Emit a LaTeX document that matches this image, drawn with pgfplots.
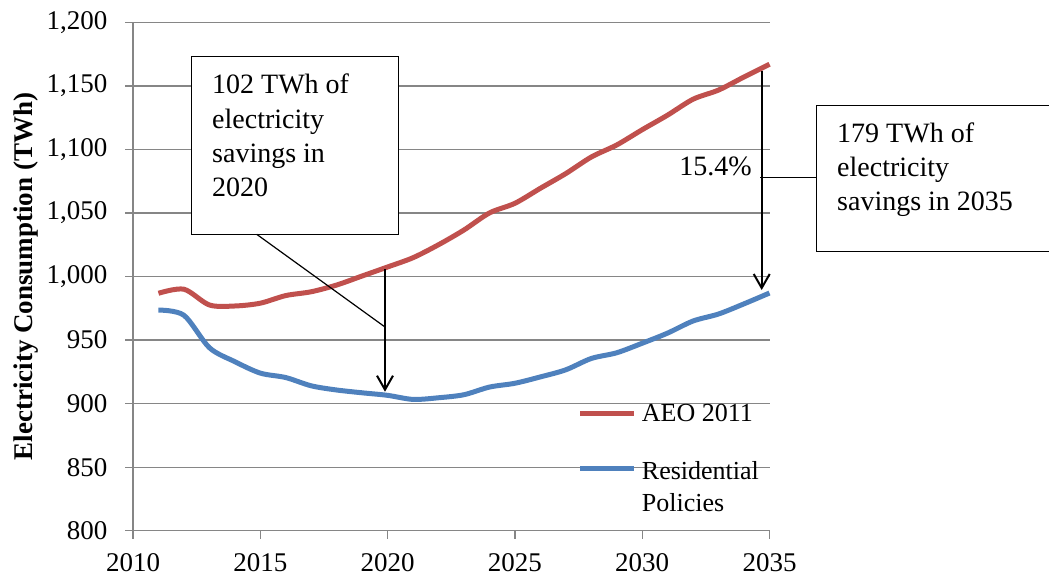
\documentclass[border=0pt]{standalone}
\usepackage{fontspec}
\setmainfont{Liberation Serif}
\usepackage{pgfplots}
\pgfplotsset{compat=1.18}
\usetikzlibrary{arrows.meta}
\definecolor{aeored}{HTML}{C0504D}
\definecolor{resblue}{HTML}{4F81BD}
\definecolor{gridgray}{HTML}{868686}
\begin{document}
\begin{tikzpicture}
\begin{axis}[
  at={(133pt,-530.7pt)}, anchor=south west,
  scale only axis, width=636.5pt, height=508.4pt,
  xmin=2010, xmax=2035, ymin=800, ymax=1200,
  xtick={2010,2015,2020,2025,2030,2035},
  ytick={800,850,900,950,1000,1050,1100,1150,1200},
  scaled y ticks=false,
  axis x line*=bottom, axis y line*=left,
  axis line style={draw=gridgray, line width=1.3pt, -},
  ymajorgrids, grid style={draw=gridgray, line width=1.3pt},
  tick align=outside, major tick length=8pt,
  tick style={draw=gridgray, line width=1.3pt},
  /pgf/number format/assume math mode=true,
  tick label style={font=\fontsize{27}{30}\selectfont},
  x tick label style={/pgf/number format/1000 sep=, yshift=-11pt},
  y tick label style={xshift=-14pt},
  ylabel={\textbf{Electricity Consumption (TWh)}},
  ylabel style={font=\fontsize{27}{30}\selectfont, at={(axis description cs:-0.1686,0.5)}, anchor=center, rotate=0},
  clip=false,
  legend style={draw=none, fill=none, at={(rel axis cs:0.699,0.249)}, anchor=north west,
    inner sep=0pt, outer sep=0pt, column sep=5pt, row sep=34pt,
    nodes={inner sep=0pt}, font=\fontsize{26}{32}\selectfont},
  legend cell align=left,
  legend image code/.code={\draw[#1] (0pt,0pt) -- (54pt,0pt);},
]
\addplot[color=aeored, line width=5pt, smooth] coordinates {
(2011,986.8) (2012,990) (2013,977.6) (2014,976.8) (2015,979) (2016,985)
(2017,988) (2018,993.3) (2019,1000.4) (2020,1007.5) (2021,1014.8) (2022,1025)
(2023,1036.6) (2024,1050) (2025,1057.6) (2026,1069.4) (2027,1081) (2028,1094)
(2029,1103.5) (2030,1115.5) (2031,1127) (2032,1139.5) (2033,1146.7) (2034,1157) (2035,1167)
};
\addlegendentry{AEO 2011}
\addplot[color=resblue, line width=5pt, smooth] coordinates {
(2011,973.6) (2012,969.5) (2013,944) (2014,933) (2015,924) (2016,920.5)
(2017,914) (2018,910.7) (2019,908.5) (2020,906.5) (2021,903.3) (2022,904.6)
(2023,907) (2024,913) (2025,916) (2026,921) (2027,926.6) (2028,935.5)
(2029,940) (2030,947.5) (2031,955.5) (2032,965) (2033,970.5) (2034,978.5) (2035,987)
};
\addlegendentry{\begin{tabular}[t]{@{}l@{}}Residential\\Policies\end{tabular}}
\end{axis}
% annotation box 1
\draw[line width=1.5pt, fill=white] (191.7pt,-56.7pt) rectangle (398.3pt,-234.3pt);
\begin{scope}[every node/.style={inner sep=0pt, anchor=base west, font=\fontsize{28}{34}\selectfont}]
\node at (212pt,-93.3pt) {102 TWh of};
\node at (212pt,-128pt) {electricity};
\node at (212pt,-162.3pt) {savings in};
\node at (212pt,-196.7pt) {2020};
\end{scope}
\draw[line width=1.2pt] (256.7pt,-234.3pt) -- (385pt,-327pt);
\draw[line width=2pt, -{Straight Barb[length=14pt,width=16pt,line width=2pt]}] (385pt,-269pt) -- (385pt,-391.7pt);
% annotation box 2
\draw[line width=1.5pt] (1052pt,-105.7pt) -- (816.7pt,-105.7pt) -- (816.7pt,-251.7pt) -- (1052pt,-251.7pt);
\begin{scope}[every node/.style={inner sep=0pt, anchor=base west, font=\fontsize{28}{34}\selectfont}]
\node at (837pt,-142.7pt) {179 TWh of};
\node at (837pt,-176.7pt) {electricity};
\node at (837pt,-210.7pt) {savings in 2035};
\end{scope}
\draw[line width=1.2pt] (760pt,-177.7pt) -- (816.7pt,-177.7pt);
\draw[line width=2pt, -{Straight Barb[length=14pt,width=16pt,line width=2pt]}] (761.7pt,-70.7pt) -- (761.7pt,-290pt);
\node[inner sep=0pt, anchor=base east, font=\fontsize{28}{34}\selectfont] at (752pt,-175pt) {15.4\%};
\pgfresetboundingbox
\useasboundingbox (0pt,0pt) rectangle (1049pt,-578pt);
\end{tikzpicture}
\end{document}
